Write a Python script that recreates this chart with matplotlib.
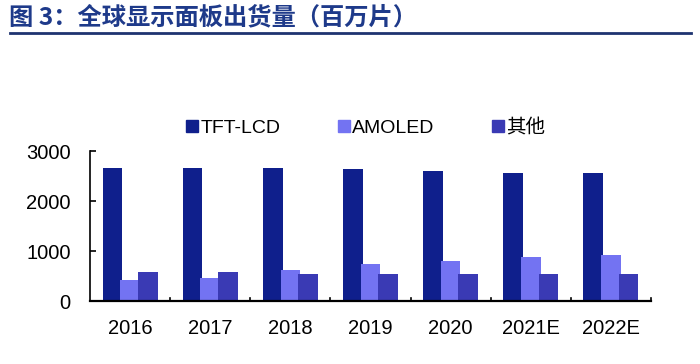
import matplotlib
matplotlib.use("Agg")
import matplotlib.pyplot as plt
import numpy as np
from matplotlib.lines import Line2D

plt.rcParams['font.family'] = ['Liberation Sans', 'Noto Sans CJK SC', 'DejaVu Sans']

years = ["2016", "2017", "2018", "2019", "2020", "2021E", "2022E"]
tft_lcd = [2670, 2670, 2670, 2640, 2600, 2560, 2560]
amoled = [430, 470, 625, 740, 810, 890, 930]
other = [585, 585, 545, 550, 550, 550, 550]
series_names = ["TFT-LCD", "AMOLED", "其他"]
colors = ["#0f1f8c", "#7373f2", "#3a3ab4"]
yticks = [0, 1000, 2000, 3000]

fig = plt.figure(figsize=(7, 3.64), dpi=100)
ax = fig.add_axes([0.1286, 0.1723, 0.8014, 0.4127])

x = np.arange(len(years))
w = 0.245
off = 0.22
for vals, c, name, o in zip([tft_lcd, amoled, other], colors, series_names, [-off, 0, off]):
    ax.bar(x + o, vals, width=w, color=c, label=name, zorder=2)

ax.set_xlim(-0.5, len(years) - 0.5)
ax.set_ylim(0, 3000)
ax.set_yticks(yticks)
ax.set_yticklabels([str(v) for v in yticks], fontsize=14.5)
ax.set_xticks(x)
ax.set_xticklabels(years, fontsize=14.5)
ax.tick_params(axis='x', length=0, pad=13)
ax.tick_params(axis='y', direction='in', length=4, width=1.2, pad=14)
for b in np.arange(0.5, len(years) - 0.5, 1.0):
    ax.plot([b, b], [0, 60], color='black', lw=1.2, zorder=3, clip_on=False)
ax.plot([len(years) - 0.5] * 2, [0, 60], color='black', lw=1.2, zorder=3, clip_on=False)
for s in ['top', 'right']:
    ax.spines[s].set_visible(False)
ax.spines['left'].set_linewidth(1.2)
ax.spines['bottom'].set_linewidth(1.6)

handles = [Line2D([], [], marker='s', linestyle='none', markersize=8, color=c) for c in colors]
fig.legend(handles, series_names, loc='center', bbox_to_anchor=(0.521, 0.648), ncol=3,
           frameon=False, fontsize=14, handletextpad=0.05, columnspacing=2.85, handlelength=0.8)

fig.text(0.013, 0.953, "图 3：全球显示面板出货量（百万片）", fontsize=17.5, fontweight='bold',
         color='#1e3a8a', va='center', ha='left', family=['Noto Sans CJK SC', 'DejaVu Sans'])
fig.add_artist(Line2D([0.014, 0.987], [0.908, 0.908], color='#1e3370', lw=2.0))

fig.savefig("out.png", dpi=100)
